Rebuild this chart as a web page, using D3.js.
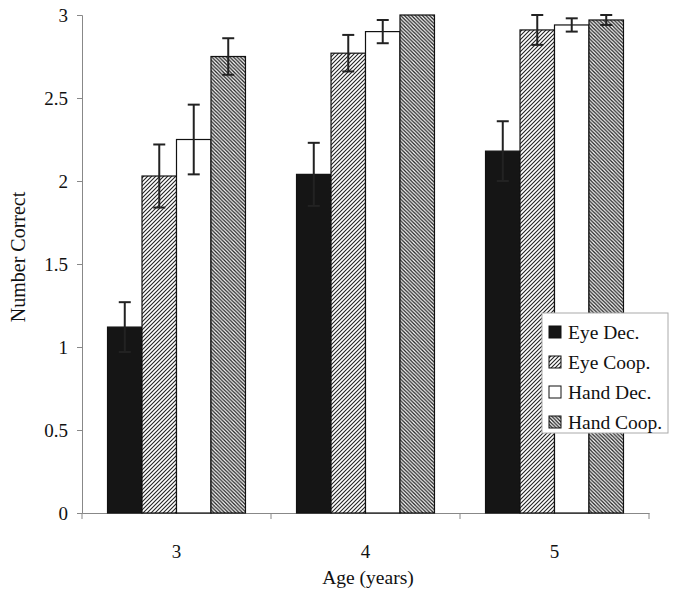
<!DOCTYPE html>
<html><head><meta charset="utf-8">
<script src="https://cdn.jsdelivr.net/npm/d3@7"></script>
<style>body{margin:0;background:#fff}svg{display:block}</style>
</head><body>
<svg id="c" width="676" height="596"></svg>
<script>
const ages = ["3", "4", "5"];
const seriesNames = ["Eye Dec.", "Eye Coop.", "Hand Dec.", "Hand Coop."];
const eyeDec = [1.12, 2.04, 2.18];
const eyeCoop = [2.03, 2.77, 2.91];
const handDec = [2.25, 2.90, 2.94];
const handCoop = [2.75, 3.00, 2.97];
const eyeDecErr = [0.15, 0.19, 0.18];
const eyeCoopErr = [0.19, 0.11, 0.09];
const handDecErr = [0.21, 0.07, 0.04];
const handCoopErr = [0.11, 0.00, 0.03];
const yTicks = [0, 0.5, 1, 1.5, 2, 2.5, 3];

(function () {
const values = [eyeDec, eyeCoop, handDec, handCoop];
const errs = [eyeDecErr, eyeCoopErr, handDecErr, handCoopErr];
const fills = ["#151515", "url(#pEye)", "#ffffff", "url(#pHand)"];

const svg = d3.select("#c");
const font = "'Liberation Serif', 'Times New Roman', serif";
const defs = svg.append("defs");
function hatch(id, dir, spacing, sw) {
  const p = defs.append("pattern").attr("id", id).attr("patternUnits", "userSpaceOnUse")
    .attr("width", spacing).attr("height", spacing);
  p.append("rect").attr("width", spacing).attr("height", spacing).attr("fill", "#fff");
  const s = spacing;
  if (dir === "/") {
    p.append("path").attr("d", `M0,${s} L${s},0 M${-s/2},${s/2} L${s/2},${-s/2} M${s/2},${s*1.5} L${s*1.5},${s/2}`)
      .attr("stroke", "#222").attr("stroke-width", sw);
  } else {
    p.append("path").attr("d", `M0,0 L${s},${s} M${-s/2},${s/2} L${s/2},${s*1.5} M${s/2},${-s/2} L${s*1.5},${s/2}`)
      .attr("stroke", "#222").attr("stroke-width", sw);
  }
}
hatch("pEye", "/", 4, 1.1);
hatch("pHand", "\\", 3.6, 1.3);

const mLeft = 82, mRight = 649, mTop = 15, mBottom = 513;
const x = d3.scaleBand().domain(ages).range([mLeft, mRight]).paddingInner(0).paddingOuter(0);
const xs = d3.scaleBand().domain(d3.range(4)).range([0, x.bandwidth()]).paddingOuter(0.74).paddingInner(0);
const y = d3.scaleLinear().domain([0, 3]).range([mBottom, mTop]);

const yAxis = svg.append("g").attr("transform", `translate(${mLeft},0)`)
  .call(d3.axisLeft(y).tickValues(yTicks).tickFormat(d => d3.format("")(d)).tickSize(5).tickPadding(9));
yAxis.select(".domain").attr("stroke", "#888");
yAxis.selectAll(".tick line").attr("stroke", "#888");
yAxis.selectAll("text").attr("font-family", font).attr("font-size", 19).attr("fill", "#111");

const xAxis = svg.append("g").attr("transform", `translate(0,${mBottom})`)
  .call(d3.axisBottom(x).tickSize(0).tickPadding(32));
xAxis.select(".domain").attr("stroke", "#888");
xAxis.selectAll("text").attr("font-family", font).attr("font-size", 19).attr("fill", "#111");
svg.append("g").selectAll("line").data([...ages.map(a => x(a)), mRight]).join("line")
  .attr("x1", d => d).attr("x2", d => d).attr("y1", mBottom).attr("y2", mBottom + 6)
  .attr("stroke", "#888");

const g = svg.append("g");
values.forEach((vals, si) => {
  ages.forEach((a, i) => {
    const bx = x(a) + xs(si);
    g.append("rect").attr("x", bx).attr("y", y(vals[i])).attr("width", xs.bandwidth())
      .attr("height", y(0) - y(vals[i])).attr("fill", fills[si])
      .attr("stroke", "#111").attr("stroke-width", 1.2);
  });
});
values.forEach((vals, si) => {
  ages.forEach((a, i) => {
    const e = errs[si][i];
    if (e <= 0) return;
    const cx = x(a) + xs(si) + xs.bandwidth() / 2;
    const eg = g.append("g").attr("stroke", "#222").attr("stroke-width", 2);
    eg.append("line").attr("x1", cx).attr("x2", cx).attr("y1", y(vals[i] + e)).attr("y2", y(vals[i] - e));
    [vals[i] + e, vals[i] - e].forEach(v => eg.append("line")
      .attr("x1", cx - 6).attr("x2", cx + 6).attr("y1", y(v)).attr("y2", y(v)));
  });
});

svg.append("text").attr("transform", "translate(25,257) rotate(-90)").attr("text-anchor", "middle")
  .attr("font-family", font).attr("font-size", 20).attr("fill", "#111").text("Number Correct");
svg.append("text").attr("x", 368).attr("y", 584).attr("text-anchor", "middle")
  .attr("font-family", font).attr("font-size", 19.5).attr("fill", "#111").text("Age (years)");

const lg = svg.append("g").attr("transform", "translate(542,313)");
lg.append("rect").attr("width", 126).attr("height", 120).attr("fill", "#fff").attr("stroke", "#aaa").attr("stroke-width", 1);
seriesNames.forEach((n, i) => {
  const cy = 19 + i * 30;
  lg.append("rect").attr("x", 7).attr("y", cy - 6).attr("width", 12).attr("height", 12)
    .attr("fill", fills[i]).attr("stroke", "#111").attr("stroke-width", 1);
  lg.append("text").attr("x", 26).attr("y", cy + 6.5).attr("font-family", font).attr("font-size", 19.5)
    .attr("fill", "#111").text(n);
});
})();
</script>
</body></html>
